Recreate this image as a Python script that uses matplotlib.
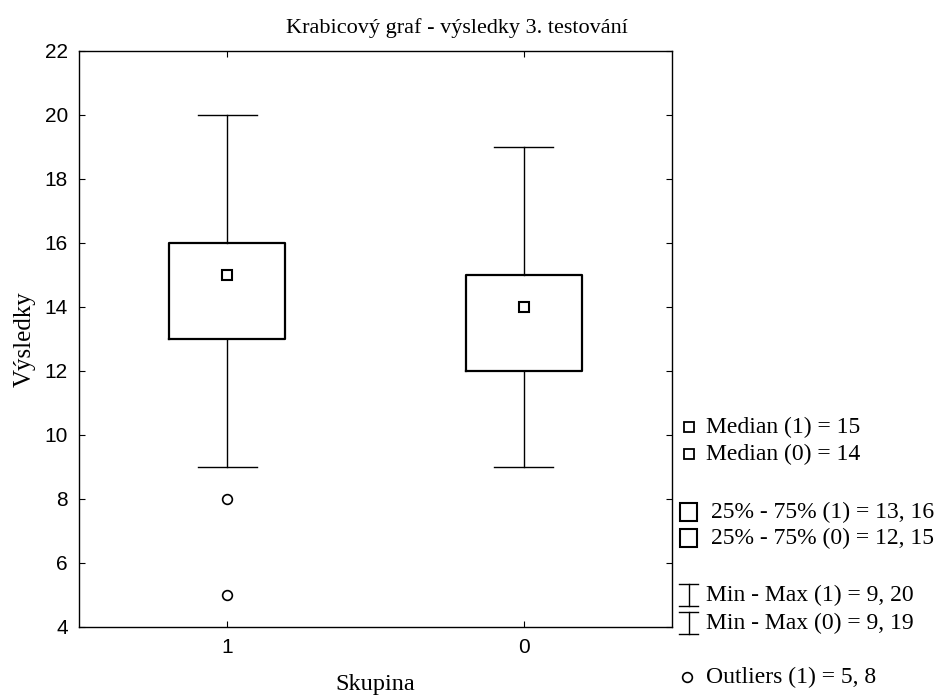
import matplotlib.pyplot as plt
from matplotlib.patches import Rectangle

groups = ['1', '0']
q1 = [13, 12]
q3 = [16, 15]
medians = [15, 14]
mins = [9, 9]
maxs = [20, 19]
outliers = [[5, 8], []]

title = 'Krabicový graf - výsledky 3. testování'
serif = 'Liberation Serif'
sans = 'Liberation Sans'

fig = plt.figure(figsize=(9.42, 6.95), dpi=100)
ax = fig.add_axes([79 / 942, 68 / 695, (672 - 79) / 942, (627 - 51) / 695])

stats = []
for i, g in enumerate(groups):
    stats.append({'label': g, 'med': medians[i], 'q1': q1[i], 'q3': q3[i],
                  'whislo': mins[i], 'whishi': maxs[i], 'fliers': outliers[i]})
pos = list(range(len(groups)))
ax.bxp(stats, positions=pos, widths=0.39, capwidths=0.2,
       boxprops=dict(color='black', linewidth=1.6),
       whiskerprops=dict(color='black', linewidth=1.0),
       capprops=dict(color='black', linewidth=1.0),
       medianprops=dict(linewidth=0),
       flierprops=dict(marker='o', markersize=7, markerfacecolor='white',
                       markeredgecolor='black', markeredgewidth=1.2))
ax.plot(pos, medians, 's', markersize=7, markerfacecolor='white',
        markeredgecolor='black', markeredgewidth=1.5, zorder=5)

ax.set_xlim(-0.5, 1.5)
ax.set_ylim(4, 22)
ax.set_yticks(range(4, 23, 2))
ax.set_xticks(pos)
ax.set_xticklabels(groups)
ax.tick_params(direction='in', length=4, top=True, right=True, labelsize=15, pad=8)
for lab in ax.get_xticklabels() + ax.get_yticklabels():
    lab.set_fontfamily(sans)
for s in ax.spines.values():
    s.set_linewidth(1.0)

ax.set_xlabel('Skupina', fontfamily=serif, fontsize=17.5, labelpad=12)
ax.set_ylabel('Výsledky', fontfamily=serif, fontsize=18, labelpad=6)
fig.text(457 / 942, 1 - 28 / 695, title, ha='center', va='center',
         fontfamily=serif, fontsize=16)

# legend drawn in pixel coordinates
lg = fig.add_axes([0, 0, 1, 1], zorder=-1)
lg.set_xlim(0, 942)
lg.set_ylim(695, 0)
lg.axis('off')
fs = 17

for i, y in enumerate([427, 454]):
    lg.plot(689, y, 's', markersize=7, markerfacecolor='white',
            markeredgecolor='black', markeredgewidth=1.3)
    lg.text(706, y, f'Median ({groups[i]}) = {medians[i]}', va='center',
            fontfamily=serif, fontsize=fs)

for i, y in enumerate([512, 538]):
    lg.add_patch(Rectangle((680, y - 9), 17, 18, facecolor='white',
                           edgecolor='black', linewidth=1.5))
    lg.text(711, y, f'25% - 75% ({groups[i]}) = {q1[i]}, {q3[i]}', va='center',
            fontfamily=serif, fontsize=fs)

for i, y in enumerate([595, 623]):
    lg.plot([688.5, 688.5], [y - 11, y + 11], color='black', linewidth=1)
    lg.plot([679, 698], [y - 11, y - 11], color='black', linewidth=1)
    lg.plot([679, 698], [y + 11, y + 11], color='black', linewidth=1)
    lg.text(706, y, f'Min - Max ({groups[i]}) = {mins[i]}, {maxs[i]}', va='center',
            fontfamily=serif, fontsize=fs)

for i, g in enumerate(groups):
    if outliers[i]:
        y = 677
        lg.plot(687, y, 'o', markersize=7, markerfacecolor='white',
                markeredgecolor='black', markeredgewidth=1.2)
        vals = ', '.join(str(v) for v in sorted(outliers[i]))
        lg.text(706, y, f'Outliers ({g}) = {vals}', va='center',
                fontfamily=serif, fontsize=fs)

fig.savefig('out.png', dpi=100)
